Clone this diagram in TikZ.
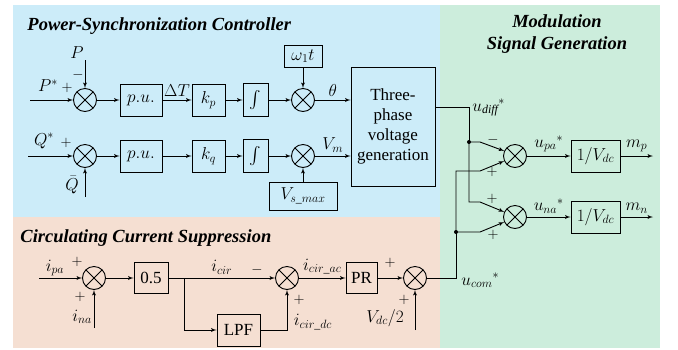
\documentclass[tikz,border=0pt]{standalone}
\usepackage{fontspec}
\setmainfont{Liberation Serif}
\usepackage{amsmath}
\usepackage{tikz}
\usetikzlibrary{calc}
\usetikzlibrary{arrows}
\tikzset{>=latex'}
\definecolor{pscbg}{RGB}{204,236,249}
\definecolor{ccsbg}{RGB}{245,223,210}
\definecolor{msgbg}{RGB}{204,237,220}
\tikzset{
	blk/.style={draw,inner sep=0pt,minimum height=32pt},
	sum/.style={draw,circle,inner sep=0pt,minimum size=23pt,
		path picture={\draw (path picture bounding box.north west)--(path picture bounding box.south east)
			(path picture bounding box.north east)--(path picture bounding box.south west);}},
	sgn/.style={inner sep=0pt,font=\fontsize{14}{16}\selectfont},
	ttl/.style={font=\rmfamily\fontsize{18.5}{22}\selectfont\bfseries\itshape}
}

\begin{document}
\begin{tikzpicture}[x=1pt,y=-1pt,font=\rmfamily\fontsize{17}{20}\selectfont,line width=0.9pt]
	\useasboundingbox (0,0) rectangle (678,349);
	% backgrounds
	\fill[pscbg] (13,5) rectangle (440,217);
	\fill[ccsbg] (13,217) rectangle (440,348);
	\fill[msgbg] (440,5) rectangle (660,348);
	\node[ttl,anchor=base west,inner sep=0pt] (tpsc) at (27,30) {Power-Synchronization Controller};
	\node[ttl,align=center] (tmsg) at (557,34) {Modulation\\Signal Generation};
	\node[ttl,anchor=base west,inner sep=0pt] (tccs) at (20,242) {Circulating Current Suppression};

	% power synchronization
	\node[sum] (sP) at (85,100) {};
	\node[blk,minimum width=42pt] (puP) at (141,100) {$p.u.$};
	\node[blk,minimum width=33pt] (kp) at (208.5,100) {$k_p$};
	\node[blk,minimum width=25pt,minimum height=33pt] (intP) at (255.5,100) {$\int$};
	\node[sum] (sTh) at (303,100) {};
	\node[blk,minimum width=38pt,minimum height=22pt] (wt) at (303,56) {$\omega_1 t$};
	\node[blk,minimum width=84pt,minimum height=119pt,align=center] (tpv) at (393,126.5) {Three-\\phase\\voltage\\generation};
	\node[sum] (sQ) at (85,156) {};
	\node[blk,minimum width=42pt] (puQ) at (141,156) {$p.u.$};
	\node[blk,minimum width=33pt] (kq) at (208.5,156) {$k_q$};
	\node[blk,minimum width=25pt,minimum height=33pt] (intQ) at (255.5,156) {$\int$};
	\node[sum] (sV) at (303,156) {};
	\node[blk,minimum width=68pt,minimum height=28pt] (vsm) at (303,196) {$V_{s\_max}$};
	\coordinate (Pin) at (30,100);
	\coordinate (Pfb) at (85,60);
	\coordinate (Qin) at (28,156);
	\coordinate (Qfb) at (85,197);
	\draw[->] (Pin) -- (sP);
	\draw[->] (Pfb) -- (sP);
	\draw[->] (sP) -- (puP);
	\draw[->] (puP) -- node[above](dT){$\Delta T$} (kp);
	\draw[->] (kp) -- (intP);
	\draw[->] (intP) -- (sTh);
	\draw[->] (wt) -- (sTh);
	\draw[->] (sTh) -- node[above](lth){$\theta$} (tpv.west |- sTh);
	\draw[->] (Qin) -- (sQ);
	\draw[->] (Qfb) -- (sQ);
	\draw[->] (sQ) -- (puQ);
	\draw[->] (puQ) -- (kq);
	\draw[->] (kq) -- (intQ);
	\draw[->] (intQ) -- (sV);
	\draw[->] (vsm) -- (sV);
	\draw[->] (sV) -- node[above](lVm){$V_m$} (tpv.west |- sV);
	\node (lPs) at (48,86) {$P^{*}$};
	\node[inner sep=1pt] (lP) at (77,53) {$P$};
	\node[inner sep=1pt] (lQs) at (44,141) {$Q^{*}$};
	\node[inner sep=1pt] (lQ) at (72,185) {$\bar{Q}$};
	\node[sgn] (pP) at (67,88) {$+$};
	\node[sgn] (mP) at (78,75) {$-$};
	\node[sgn] (pQ) at (66,143) {$+$};

	% modulation signal generation
	\node[sum] (sUp) at (515,156) {};
	\node[sum] (sUn) at (515,217) {};
	\node[blk,minimum width=49pt] (dcP) at (595.5,156) {$1/V_{dc}$};
	\node[blk,minimum width=49pt] (dcN) at (595.5,217) {$1/V_{dc}$};
	\coordinate (jd) at (469,142);
	\coordinate (jc) at (456,232);
	\coordinate (mpo) at (653,156);
	\coordinate (mno) at (653,217);
	\draw ([yshift=19.5pt]tpv.east) -| (jd);
	\draw[->] (jd) -- ++(11,0) -- (sUp.155);
	\draw[->] (jd) -- ++(0,60) -- ++(11,0) -- (sUn.155);
	\draw[->] (jc) -- ++(0,-61) -- ++(24,0) -- (sUp.205);
	\draw[->] (jc) -- ++(24,0) -- (sUn.205);
	\fill (jd) circle (2pt);
	\fill (jc) circle (2pt);
	\draw[->] (sUp) -- node[above](lupa){${u_{pa}}^{*}$} (dcP);
	\draw[->] (sUn) -- node[above](luna){${u_{na}}^{*}$} (dcN);
	\draw[->] (dcP) -- node[above](lmp){$m_p$} (mpo);
	\draw[->] (dcN) -- node[above](lmn){$m_n$} (mno);
	\node[anchor=base west,inner sep=0pt] (ludiff) at (472,111) {${u_{\mathit{diff}}}^{*}$};
	\node[sgn] (mU1) at (493,140) {$-$};
	\node[sgn] (pU1) at (492,172) {$+$};
	\node[sgn] (pU2) at (492,199) {$+$};
	\node[sgn] (pU3) at (493,235) {$+$};

	% circulating current suppression
	\node[sum] (sI) at (94,278) {};
	\node[blk,minimum width=34pt,minimum height=31pt] (half) at (151,278) {0.5};
	\node[sum] (sC) at (287,278) {};
	\node[blk,minimum width=43pt] (lpf) at (238.5,330) {LPF};
	\node[blk,minimum width=31pt,minimum height=31pt] (pr) at (361.5,278) {PR};
	\node[sum] (sM) at (415,278) {};
	\coordinate (ipa) at (39,278);
	\coordinate (ina) at (94,328);
	\coordinate (vdc) at (415,330);
	\coordinate (br) at (184,278);
	\draw[->] (ipa) -- (sI);
	\draw[->] (ina) -- (sI);
	\draw[->] (sI) -- (half);
	\draw[->] (half) -- node[above](licir){$i_{cir}$} (sC);
	\draw[->] (br) |- (lpf);
	\draw[->] (lpf) -| (sC);
	\draw[->] (sC) -- node[above](lciac){$i_{cir\_ac}$} (pr);
	\draw[->] (pr) -- (sM);
	\draw[->] (vdc) -- (sM);
	\draw (sM) -| (jc);
	\node (lipa) at (55,268) {$i_{pa}$};
	\node (lina) at (82,317) {$i_{na}$};
	\node (licdc) at (313,322) {$i_{cir\_dc}$};
	\node (lvdc) at (385,318) {$V_{dc}/2$};
	\node[anchor=base west,inner sep=0pt] (lucom) at (461,285) {${u_{com}}^{*}$};
	\node[sgn] (pI1) at (77,262) {$+$};
	\node[sgn] (pI2) at (80,297) {$+$};
	\node[sgn] (mC) at (257,270) {$-$};
	\node[sgn] (pC) at (299,300) {$+$};
	\node[sgn] (pM1) at (390,263) {$+$};
	\node[sgn] (pM2) at (404,300) {$+$};
\end{tikzpicture}
\end{document}
